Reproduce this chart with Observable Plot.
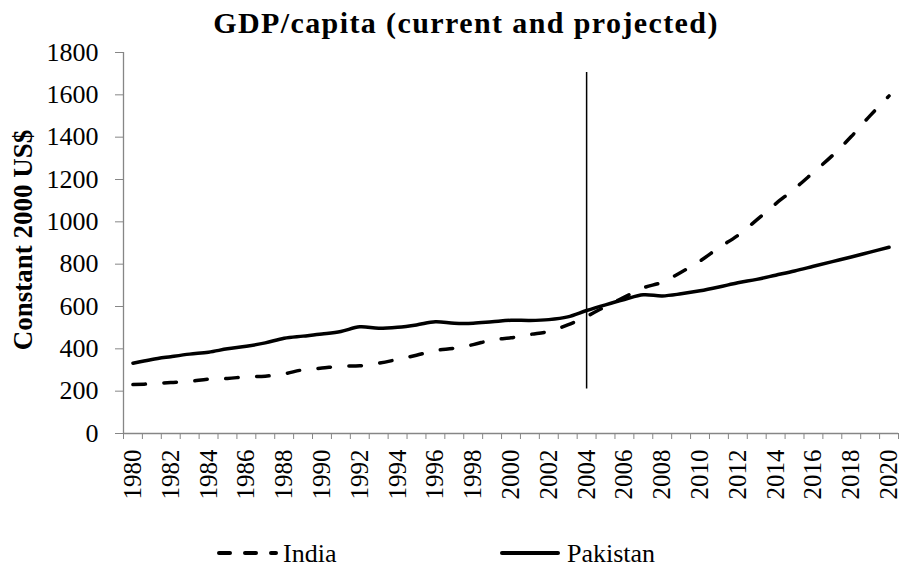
<!DOCTYPE html>
<html><head><meta charset="utf-8">
<script src="https://cdn.jsdelivr.net/npm/d3@7"></script>
<script src="https://cdn.jsdelivr.net/npm/@observablehq/plot@0.6"></script>
<style>
body{margin:0;background:#fff;}
#wrap{position:relative;width:901px;height:570px;font-family:"Liberation Serif","DejaVu Serif",serif;background:#fff;overflow:hidden;}
#title{position:absolute;left:0;width:932px;top:8px;line-height:30px;text-align:center;font-weight:bold;font-size:30px;letter-spacing:1.4px;color:#000;}
#chart{position:absolute;left:0;top:44px;}
#legend{position:absolute;left:0;top:530px;}
</style></head><body>
<div id="wrap">
  <div id="title">GDP/capita (current and projected)</div>
  <div id="chart"></div>
  <svg id="legend" width="901" height="40"></svg>
</div>
<script>
const years = [1980,1981,1982,1983,1984,1985,1986,1987,1988,1989,
               1990,1991,1992,1993,1994,1995,1996,1997,1998,1999,
               2000,2001,2002,2003,2004,2005,2006,2007,2008,2009,
               2010,2011,2012,2013,2014,2015,2016,2017,2018,2019,2020];
const india = [231,235,241,246,257,260,268,271,282,301,
               309,318,320,332,350,370,392,403,420,442,
               452,468,482,513,553,600,644,688,715,762,
               815,878,936,1009,1085,1156,1234,1313,1403,1502,1595];
const pakistan = [332,350,363,375,384,400,412,428,450,460,
                  470,482,504,497,502,513,528,521,521,528,
                  535,534,538,551,581,608,633,655,650,660,
                  674,692,712,728,748,768,790,812,834,857,880];
const yTicks = [0,200,400,600,800,1000,1200,1400,1600,1800];
const xLabelYears = [1980,1982,1984,1986,1988,1990,1992,1994,1996,1998,2000,2002,2004,2006,2008,2010,2012,2014,2016,2018,2020];
const markerYear = 2004;
const markerRange = [210, 1705];
const seriesNames = ["India", "Pakistan"];
const yLabel = "Constant 2000 US$";
const fontStack = '"Liberation Serif", "DejaVu Serif", serif';

const indiaData = years.map((y, i) => ({year: y, value: india[i]}));
const pakData = years.map((y, i) => ({year: y, value: pakistan[i]}));
const boundaries = years.map(y => y - 0.5).concat([years[years.length - 1] + 0.5]);
const axisGray = "#868686";

const chart = Plot.plot({
  width: 901, height: 480,
  marginTop: 8, marginBottom: 91, marginLeft: 123, marginRight: 3,
  style: {fontFamily: fontStack, fontSize: "26px", color: "black", background: "white", overflow: "visible"},
  x: {domain: [boundaries[0], boundaries[boundaries.length - 1]]},
  y: {domain: [0, 1800]},
  marks: [
    Plot.axisY({ticks: yTicks, tickSize: 8, tickPadding: 17, stroke: axisGray, label: null, fontSize: 26, tickFormat: d => String(d)}),
    Plot.axisX({ticks: boundaries, tickSize: 6, tickFormat: () => "", stroke: axisGray, label: null}),
    Plot.axisX({ticks: xLabelYears, tickSize: 0, tickRotate: -90, tickPadding: 16, label: null, fontSize: 25, tickFormat: d => String(d)}),
    Plot.ruleY([0], {stroke: axisGray, strokeWidth: 1.3}),
    Plot.ruleX([boundaries[0]], {y1: 0, y2: 1800, stroke: axisGray, strokeWidth: 1.3}),
    Plot.ruleX([markerYear], {y1: markerRange[0], y2: markerRange[1], stroke: "black", strokeWidth: 1.5}),
    Plot.line(pakData, {x: "year", y: "value", stroke: "black", strokeWidth: 3.5, curve: "catmull-rom", strokeLinecap: "round", strokeLinejoin: "round"}),
    Plot.line(indiaData, {x: "year", y: "value", stroke: "black", strokeWidth: 3.5, curve: "catmull-rom", strokeDasharray: "12.5,18.5", strokeLinecap: "round"})
  ]
});
document.getElementById("chart").appendChild(chart);

const svg = d3.select(chart);
svg.append("text")
  .attr("transform", "translate(32,196) rotate(-90)")
  .attr("text-anchor", "middle")
  .attr("font-family", fontStack)
  .attr("font-weight", "bold")
  .attr("font-size", 27)
  .attr("fill", "black")
  .text(yLabel);

const leg = d3.select("#legend");
leg.append("line").attr("x1", 219).attr("x2", 276).attr("y1", 23).attr("y2", 23)
  .attr("stroke", "black").attr("stroke-width", 4).attr("stroke-linecap", "round").attr("stroke-dasharray", "11,15");
leg.append("text").attr("x", 283).attr("y", 32).attr("font-family", fontStack).attr("font-size", 26).text(seriesNames[0]);
leg.append("line").attr("x1", 502).attr("x2", 558).attr("y1", 23).attr("y2", 23)
  .attr("stroke", "black").attr("stroke-width", 4).attr("stroke-linecap", "round");
leg.append("text").attr("x", 567).attr("y", 32).attr("font-family", fontStack).attr("font-size", 26).text(seriesNames[1]);
</script></body></html>
